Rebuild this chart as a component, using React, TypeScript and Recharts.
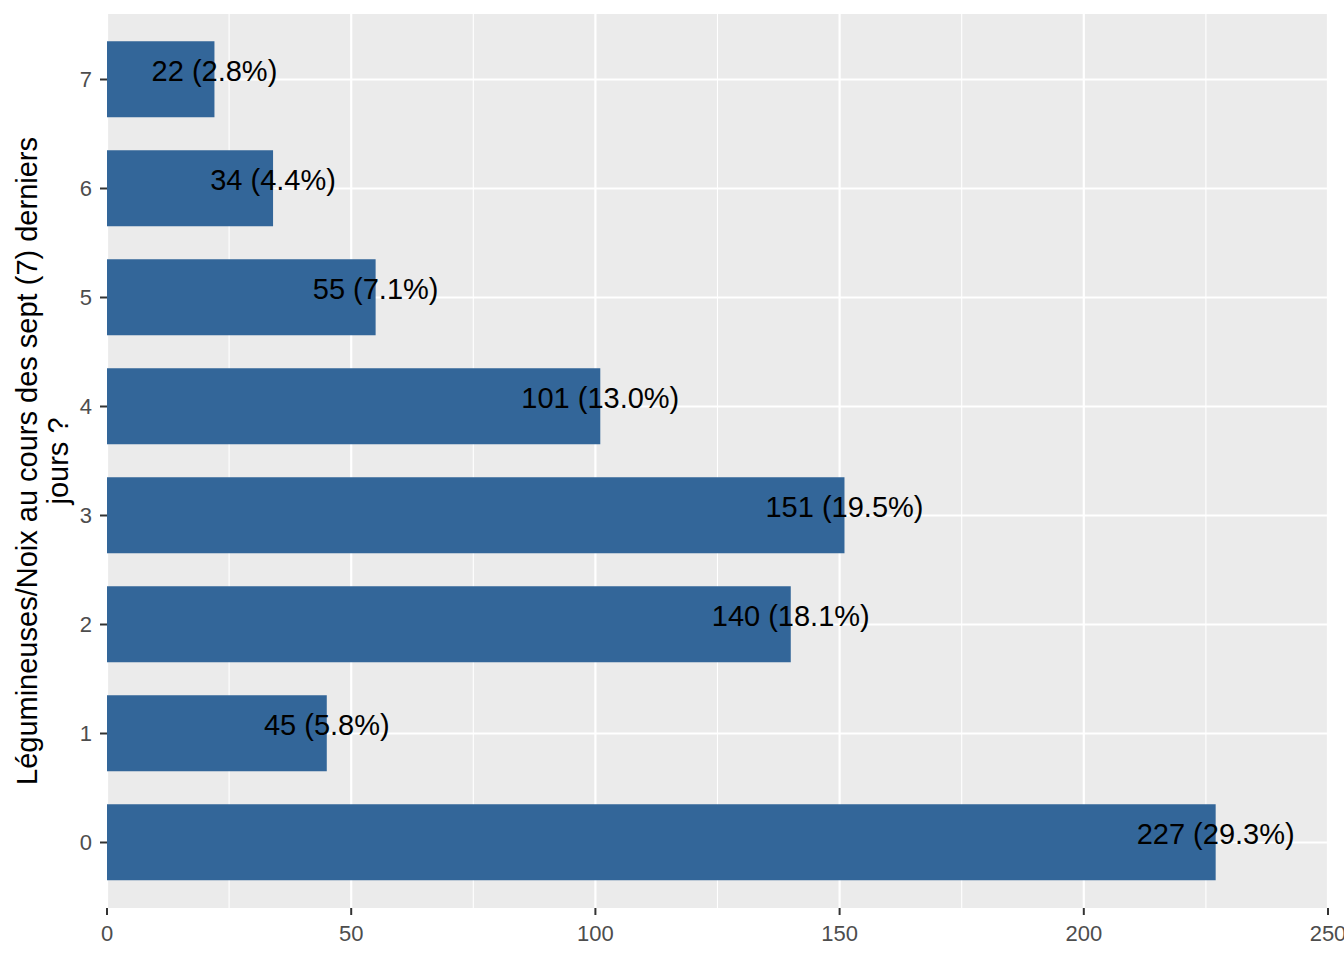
import { Bar, BarChart, CartesianGrid, LabelList, XAxis, YAxis } from "recharts";

const CATEGORIES = ["7", "6", "5", "4", "3", "2", "1", "0"];
const COUNTS = [22, 34, 55, 101, 151, 140, 45, 227];
const PERCENTS = [2.8, 4.4, 7.1, 13.0, 19.5, 18.1, 5.8, 29.3];
const MAJOR_TICKS = [0, 50, 100, 150, 200, 250];
const MINOR_TICKS = [25, 75, 125, 175, 225];

const FONT = "Arial, 'Liberation Sans', sans-serif";
const BAR_COLOR = "#336699";

const data = CATEGORIES.map((cat, i) => ({
    cat,
    count: COUNTS[i],
    label: `${COUNTS[i]} (${PERCENTS[i].toFixed(1)}%)`,
}));

// horizontal grid lines sit on the centre of each category band
const bandCentres = ({ yAxis }: any) => {
    const s = yAxis?.scale;
    if (!s) return [];
    const bw = typeof s.bandwidth === "function" ? s.bandwidth() : 0;
    const at = (c: string) => (typeof s === "function" ? s(c) : s.map(c));
    return CATEGORIES.map((c) => at(c) + bw / 2).filter((v) => Number.isFinite(v));
};

const BarLabel = (props: any) => {
    const { x, y, width, height, value } = props;
    return (
        <text
            x={Number(x) + Number(width)}
            y={Number(y) + Number(height) / 2 + 2}
            textAnchor="middle"
            fontFamily={FONT}
            fontSize={29}
            fill="#000000"
        >
            {value}
        </text>
    );
};

const AxisTitle = () => (
    <g fontFamily={FONT} fontSize={29} fill="#000000">
        <text x={37} y={461} textAnchor="middle" transform="rotate(-90, 37, 461)">
            Légumineuses/Noix au cours des sept (7) derniers
        </text>
        <text x={68} y={461} textAnchor="middle" transform="rotate(-90, 68, 461)">
            jours ?
        </text>
    </g>
);

export default function App() {
    return (
        <div style={{ position: "absolute", left: 0, top: 0, background: "#ffffff" }}>
            <BarChart
                width={1344}
                height={960}
                data={data}
                layout="vertical"
                margin={{ top: 14, right: 16, bottom: 0, left: 0 }}
                barCategoryGap="15%"
            >
                <CartesianGrid
                    fill="#EBEBEB"
                    stroke="#FFFFFF"
                    strokeWidth={2.2}
                    horizontalCoordinatesGenerator={bandCentres}
                />
                <CartesianGrid
                    stroke="#FFFFFF"
                    strokeWidth={1.1}
                    horizontal={false}
                    verticalValues={MINOR_TICKS}
                />
                <XAxis
                    type="number"
                    domain={[0, 250]}
                    ticks={MAJOR_TICKS}
                    interval={0}
                    height={52}
                    axisLine={false}
                    tickSize={7}
                    tickMargin={10}
                    tickLine={{ stroke: "#333333", strokeWidth: 2 }}
                    tick={{ fill: "#4D4D4D", fontSize: 22, fontFamily: FONT }}
                    allowDataOverflow
                />
                <YAxis
                    type="category"
                    dataKey="cat"
                    width={107}
                    padding={{ top: 11, bottom: 11 }}
                    axisLine={false}
                    tickSize={7}
                    tickMargin={8}
                    tickLine={{ stroke: "#333333", strokeWidth: 2 }}
                    tick={{ fill: "#4D4D4D", fontSize: 22, fontFamily: FONT }}
                    interval={0}
                    label={{ content: () => <AxisTitle /> }}
                />
                <Bar dataKey="count" fill={BAR_COLOR} isAnimationActive={false}>
                    <LabelList dataKey="label" content={BarLabel} />
                </Bar>
            </BarChart>
        </div>
    );
}
